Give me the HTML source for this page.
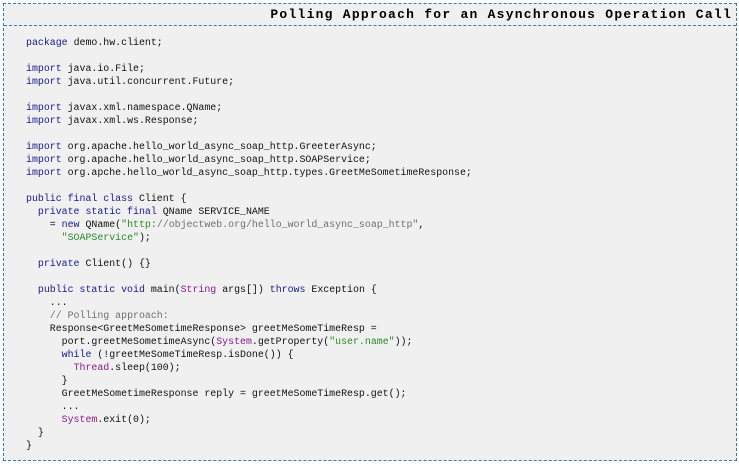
<!DOCTYPE html>
<html><head><meta charset="utf-8"><style>
html,body{margin:0;padding:0;background:#fff;width:739px;height:466px;overflow:hidden}
.box{position:absolute;left:3px;top:3px;width:732px;height:456px;border:1px dashed #3b76c4;background:#f0f0f0}
.title{position:absolute;left:0;top:0;width:732px;height:21px;border-bottom:1px dashed #3b76c4;}
.title span{position:absolute;right:4px;top:3px;font:bold 13px "Liberation Mono",monospace;letter-spacing:1.25px;color:#000;white-space:pre}
pre{position:absolute;left:22px;top:32px;margin:0;font:9.92px/13px "Liberation Mono",monospace;color:#111}
.k{color:#1a1a8c}.s{color:#2a8a2a}.p{color:#8a1a8a}.c{color:#707070}
</style></head><body>
<div class="box"><div class="title"><span>Polling Approach for an Asynchronous Operation Call</span></div>
<pre><span class="k">package</span> demo.hw.client;

<span class="k">import</span> java.io.File;
<span class="k">import</span> java.util.concurrent.Future;

<span class="k">import</span> javax.xml.namespace.QName;
<span class="k">import</span> javax.xml.ws.Response;

<span class="k">import</span> org.apache.hello_world_async_soap_http.GreeterAsync;
<span class="k">import</span> org.apache.hello_world_async_soap_http.SOAPService;
<span class="k">import</span> org.apche.hello_world_async_soap_http.types.GreetMeSometimeResponse;

<span class="k">public final class</span> Client {
  <span class="k">private static final</span> QName SERVICE_NAME
    = <span class="k">new</span> QName(<span class="s">"http:</span><span class="c">//objectweb.org/hello_world_async_soap_http"</span>,
      <span class="s">"SOAPService"</span>);

  <span class="k">private</span> Client() {}

  <span class="k">public static void</span> main(<span class="p">String</span> args[]) <span class="k">throws</span> Exception {
    ...
    <span class="c">// Polling approach:</span>
    Response&lt;GreetMeSometimeResponse&gt; greetMeSomeTimeResp =
      port.greetMeSometimeAsync(<span class="p">System</span>.getProperty(<span class="s">"user.name"</span>));
      <span class="k">while</span> (!greetMeSomeTimeResp.isDone()) {
        <span class="p">Thread</span>.sleep(100);
      }
      GreetMeSometimeResponse reply = greetMeSomeTimeResp.get();
      ...
      <span class="p">System</span>.exit(0);
  }
}</pre></div>
</body></html>
